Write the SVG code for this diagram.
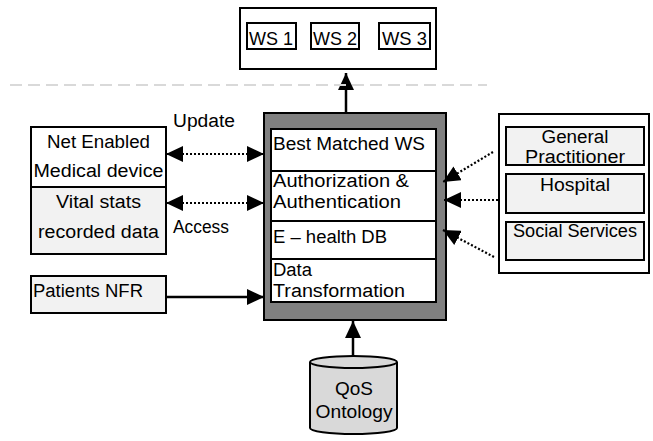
<svg xmlns="http://www.w3.org/2000/svg" width="653" height="441" viewBox="0 0 653 441">
<style>
text{font-family:"Liberation Sans",Arial,sans-serif;font-size:18px;fill:#000}
.c{text-anchor:middle}
.bx{stroke:#000;stroke-width:2}
.w{fill:#fff}
.g{fill:#f2f2f2}
.dot{stroke:#000;stroke-width:2.2;stroke-dasharray:2 2;fill:none}
.sol{stroke:#000;stroke-width:2.5;fill:none}
</style>
<defs>
<marker id="ah" markerUnits="userSpaceOnUse" markerWidth="18" markerHeight="16" refX="17" refY="8" orient="auto-start-reverse" viewBox="0 0 18 16">
<path d="M0,0 L17,8 L0,16 Z" fill="#000"/>
</marker>
</defs>
<rect width="653" height="441" fill="#fff"/>

<g id="ws">
<rect class="bx w" x="240" y="8" width="196" height="61"/>
<rect class="bx w" x="247" y="23" width="49" height="26"/>
<text x="249" y="45" textLength="44" lengthAdjust="spacingAndGlyphs">WS 1</text>
<rect class="bx w" x="311" y="23" width="48" height="26"/>
<text x="313" y="45" textLength="44" lengthAdjust="spacingAndGlyphs">WS 2</text>
<rect class="bx w" x="379" y="23" width="51" height="26"/>
<text x="382" y="45" textLength="45" lengthAdjust="spacingAndGlyphs">WS 3</text>
</g>

<g id="core">
<rect x="264" y="113" width="182" height="207" fill="#808080" stroke="#000" stroke-width="2"/>
<rect class="bx w" x="271" y="129" width="165" height="173"/>
<line x1="271" y1="171" x2="436" y2="171" stroke="#000" stroke-width="2"/>
<line x1="271" y1="221" x2="436" y2="221" stroke="#000" stroke-width="2"/>
<line x1="271" y1="259" x2="436" y2="259" stroke="#000" stroke-width="2"/>
<text x="273" y="150" textLength="152" lengthAdjust="spacingAndGlyphs">Best Matched WS</text>
<text x="273" y="187" textLength="136" lengthAdjust="spacingAndGlyphs">Authorization &amp;</text>
<text x="273" y="208" textLength="128" lengthAdjust="spacingAndGlyphs">Authentication</text>
<text x="273" y="243" textLength="114" lengthAdjust="spacingAndGlyphs">E – health DB</text>
<text x="273" y="276" textLength="39" lengthAdjust="spacingAndGlyphs">Data</text>
<text x="273" y="297" textLength="132" lengthAdjust="spacingAndGlyphs">Transformation</text>
</g>

<g id="device">
<rect class="bx w" x="31" y="127" width="135" height="60"/>
<text x="98.5" y="148" class="c" textLength="103" lengthAdjust="spacingAndGlyphs">Net Enabled</text>
<text x="98.5" y="177" class="c" textLength="130" lengthAdjust="spacingAndGlyphs">Medical device</text>
</g>
<g id="vital">
<rect class="bx g" x="31" y="187" width="135" height="67"/>
<text x="98.5" y="208" class="c" textLength="85" lengthAdjust="spacingAndGlyphs">Vital stats</text>
<text x="98.5" y="238" class="c" textLength="121" lengthAdjust="spacingAndGlyphs">recorded data</text>
</g>
<g id="nfr">
<rect class="bx g" x="31" y="276" width="135" height="37"/>
<text x="33" y="297" textLength="110" lengthAdjust="spacingAndGlyphs">Patients NFR</text>
</g>

<g id="providers">
<rect class="bx w" x="499" y="114" width="150" height="159"/>
<g id="gp">
<rect class="bx g" x="506" y="127" width="138" height="38"/>
<text x="575" y="143" class="c" textLength="67" lengthAdjust="spacingAndGlyphs">General</text>
<text x="575" y="163" class="c" textLength="100" lengthAdjust="spacingAndGlyphs">Practitioner</text>
</g>
<g id="hospital">
<rect class="bx g" x="506" y="174" width="138" height="39"/>
<text x="575" y="191" class="c" textLength="70" lengthAdjust="spacingAndGlyphs">Hospital</text>
</g>
<g id="social">
<rect class="bx g" x="506" y="222" width="138" height="38"/>
<text x="575" y="237" class="c" textLength="124" lengthAdjust="spacingAndGlyphs">Social Services</text>
</g>
</g>

<g id="qos">
<path d="M310,362 L310,428 A43.5,6 0 0 0 397,428 L397,362" fill="#d9d9d9" stroke="#000" stroke-width="2"/>
<ellipse cx="353.5" cy="362" rx="43.5" ry="6" fill="#d9d9d9" stroke="#000" stroke-width="2"/>
<text x="354" y="395" class="c" textLength="38" lengthAdjust="spacingAndGlyphs">QoS</text>
<text x="354" y="418" class="c" textLength="77" lengthAdjust="spacingAndGlyphs">Ontology</text>
</g>

<g id="connectors">
<line class="sol" x1="346" y1="113" x2="346" y2="73" marker-end="url(#ah)"/>
<line class="dot" x1="166" y1="154" x2="264" y2="154" marker-start="url(#ah)" marker-end="url(#ah)"/>
<line class="dot" x1="166" y1="203" x2="264" y2="203" marker-start="url(#ah)" marker-end="url(#ah)"/>
<line class="sol" x1="166" y1="297" x2="264" y2="297" marker-end="url(#ah)"/>
<line class="dot" x1="493" y1="152" x2="443" y2="182" marker-end="url(#ah)"/>
<line class="dot" x1="498" y1="200" x2="444" y2="200" marker-end="url(#ah)"/>
<line class="dot" x1="494" y1="257" x2="443" y2="230" marker-end="url(#ah)"/>
<line class="sol" x1="353" y1="356" x2="353" y2="321" marker-end="url(#ah)"/>
<text x="173" y="127" textLength="62" lengthAdjust="spacingAndGlyphs">Update</text>
<text x="173" y="233" textLength="56" lengthAdjust="spacingAndGlyphs">Access</text>
</g>
<line x1="10" y1="85" x2="487" y2="85" stroke="#d9d9d9" stroke-width="2" stroke-dasharray="12 6"/>
</svg>
